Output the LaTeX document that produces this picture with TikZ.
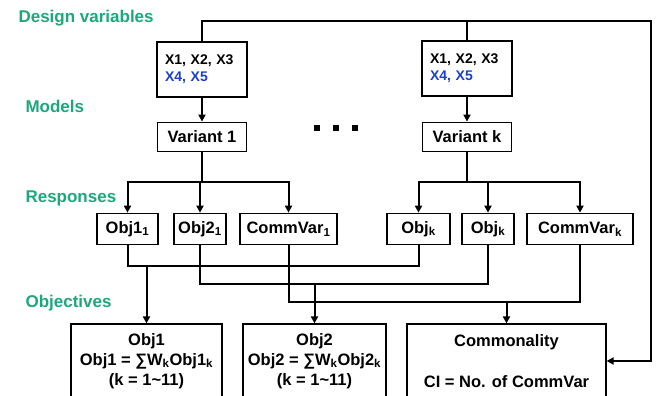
\documentclass[tikz,border=0pt]{standalone}
\usepackage{fontspec}
\setmainfont{Liberation Sans}
\usetikzlibrary{arrows.meta,positioning}
\definecolor{LblGreen}{HTML}{1BA97B}
\definecolor{VarBlue}{HTML}{1C3FCC}

\begin{document}
\begin{tikzpicture}[x=1pt, y=-1pt,
  lbl/.style={anchor=base west, font=\bfseries\fontsize{17}{20}\selectfont, text=LblGreen},
  box/.style={draw, line width=1.2pt, inner sep=0pt, align=center,
              font=\bfseries\fontsize{16.5}{20}\selectfont},
  varbox/.style={box, minimum width=90pt, minimum height=55pt, text width=74pt,
                 align=left, font=\bfseries\fontsize{14}{17}\selectfont},
  modbox/.style={box, minimum width=89pt, minimum height=29pt},
  resp/.style={box, minimum height=31.5pt},
  objbox/.style={box, minimum height=74pt},
  wire/.style={line width=2pt},
  >={Triangle[length=7pt,width=7pt]}
]
  \useasboundingbox (0,0) rectangle (656,396);

  \node[lbl] (dvLbl) at (15,22.5)  {Design variables};
  \node[lbl] (mdLbl) at (22,112)   {Models};
  \node[lbl] (rsLbl) at (22,202)   {Responses};
  \node[lbl] (obLbl) at (22,307.5) {Objectives};

  \node[varbox] (dv1) at (202,69.5) {X1, X2, X3\\\textcolor{VarBlue}{X4, X5}};
  \node[varbox] (dvk) at (467,68.5) {X1, X2, X3\\\textcolor{VarBlue}{X4, X5}};
  \node[modbox, below=24pt of dv1] (var1) {Variant 1};
  \node[modbox, below=25pt of dvk] (vark) {Variant k};

  \foreach \dx in {317,336,355}
    \fill (\dx-3,125) rectangle ++(6,6);

  \node[resp, minimum width=61pt]  (o11) at (127.5,229) {Obj1\textsubscript{1}};
  \node[resp, minimum width=52pt]  (o21) at (200,229)   {Obj2\textsubscript{1}};
  \node[resp, minimum width=97pt]  (cv1) at (288.5,229) {CommVar\textsubscript{1}};
  \node[resp, minimum width=63pt]  (ok1) at (418.5,229) {Obj\textsubscript{k}};
  \node[resp, minimum width=52pt]  (ok2) at (488,229)   {Obj\textsubscript{k}};
  \node[resp, minimum width=106pt] (cvk) at (580,229)   {CommVar\textsubscript{k}};

  \node[objbox, minimum width=151pt] (obj1) at (146.5,361)
    {Obj1\\Obj1 = ∑W\textsubscript{k}Obj1\textsubscript{k}\\(k = 1\textasciitilde11)};
  \node[objbox, minimum width=143pt] (obj2) at (314.5,361)
    {Obj2\\Obj2 = ∑W\textsubscript{k}Obj2\textsubscript{k}\\(k = 1\textasciitilde11)};
  \node[objbox, minimum width=199pt] (comm) at (506.5,361)
    {Commonality\\[21pt]CI = No. of CommVar};

  % design variables feed both variants and the commonality index
  \coordinate (top) at (651,21);
  \draw[wire,->] (dv1.north) |- (top) |- (comm.east);
  \draw[wire] (dvk.north) -- (dvk.north |- top);
  \draw[wire,->] (dv1.south) -- (var1.north);
  \draw[wire,->] (dvk.south) -- (vark.north);

  % responses of each variant
  \coordinate (fork1) at (202,182);
  \coordinate (forkk) at (467,182);
  \draw[wire] (var1.south) -- (fork1);
  \draw[wire,<->] (o11.north) |- (fork1) -| (cv1.north);
  \draw[wire,->] (o21.north |- fork1) -- (o21.north);
  \draw[wire] (vark.south) -- (forkk);
  \draw[wire,<->] (ok1.north) |- (forkk) -| (cvk.north);
  \draw[wire,->] (ok2.north |- forkk) -- (ok2.north);

  % gather responses into objectives
  \coordinate (row1) at (300,266);
  \coordinate (row2) at (300,284);
  \coordinate (row3) at (300,302);
  \draw[wire] (o11.south) |- (row1) -| (ok1.south);
  \draw[wire] (o21.south) |- (row2) -| (ok2.south);
  \draw[wire] (cv1.south) |- (row3) -| (cvk.south);
  \draw[wire,->] (obj1.north |- row1) -- (obj1.north);
  \draw[wire,->] (obj2.north |- row2) -- (obj2.north);
  \draw[wire,->] (comm.north |- row3) -- (comm.north);
\end{tikzpicture}
\end{document}
